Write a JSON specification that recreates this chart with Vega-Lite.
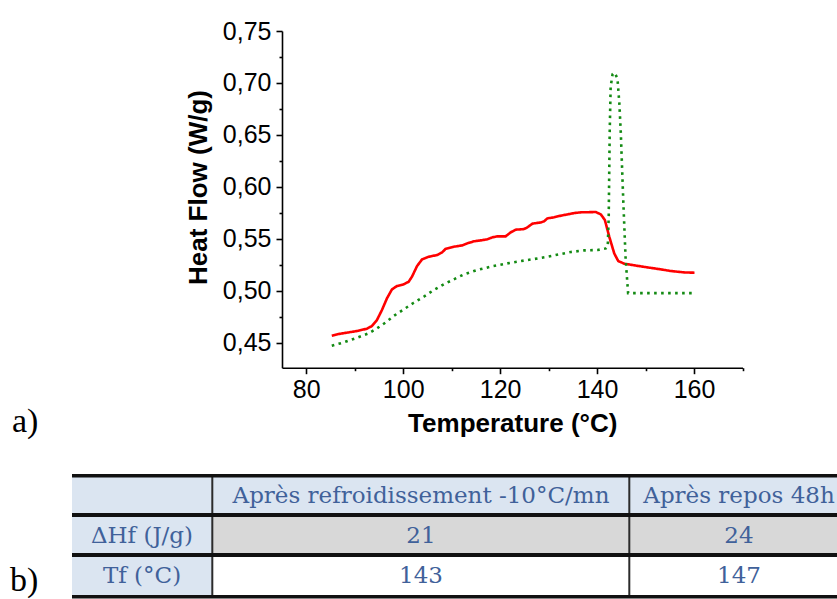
{
  "$schema": "https://vega.github.io/schema/vega-lite/v6.json",
  "width": 837,
  "height": 599,
  "padding": 0,
  "autosize": {"type": "none"},
  "background": "white",
  "config": {"view": {"stroke": null}},
  "datasets": {
    "curves": [
      {"series": "refroidissement", "T": 85.27, "HF": 0.4568},
      {"series": "refroidissement", "T": 86.65, "HF": 0.4584},
      {"series": "refroidissement", "T": 88.38, "HF": 0.4597},
      {"series": "refroidissement", "T": 90.45, "HF": 0.4613},
      {"series": "refroidissement", "T": 92.52, "HF": 0.4635},
      {"series": "refroidissement", "T": 93.55, "HF": 0.4661},
      {"series": "refroidissement", "T": 94.58, "HF": 0.4718},
      {"series": "refroidissement", "T": 95.62, "HF": 0.4815},
      {"series": "refroidissement", "T": 96.65, "HF": 0.4927},
      {"series": "refroidissement", "T": 97.69, "HF": 0.5014},
      {"series": "refroidissement", "T": 98.72, "HF": 0.5046},
      {"series": "refroidissement", "T": 100.1, "HF": 0.5062},
      {"series": "refroidissement", "T": 101.13, "HF": 0.5087},
      {"series": "refroidissement", "T": 101.82, "HF": 0.5136},
      {"series": "refroidissement", "T": 102.86, "HF": 0.5238},
      {"series": "refroidissement", "T": 103.89, "HF": 0.5302},
      {"series": "refroidissement", "T": 105.27, "HF": 0.5328},
      {"series": "refroidissement", "T": 107.0, "HF": 0.5344},
      {"series": "refroidissement", "T": 108.03, "HF": 0.537},
      {"series": "refroidissement", "T": 108.72, "HF": 0.5402},
      {"series": "refroidissement", "T": 110.44, "HF": 0.5424},
      {"series": "refroidissement", "T": 112.17, "HF": 0.5437},
      {"series": "refroidissement", "T": 113.2, "HF": 0.5456},
      {"series": "refroidissement", "T": 114.58, "HF": 0.5476},
      {"series": "refroidissement", "T": 115.96, "HF": 0.5485},
      {"series": "refroidissement", "T": 117.34, "HF": 0.5495},
      {"series": "refroidissement", "T": 118.37, "HF": 0.5514},
      {"series": "refroidissement", "T": 119.41, "HF": 0.5524},
      {"series": "refroidissement", "T": 121.13, "HF": 0.5524},
      {"series": "refroidissement", "T": 122.17, "HF": 0.5562},
      {"series": "refroidissement", "T": 123.2, "HF": 0.5588},
      {"series": "refroidissement", "T": 124.92, "HF": 0.5594},
      {"series": "refroidissement", "T": 125.61, "HF": 0.561},
      {"series": "refroidissement", "T": 126.65, "HF": 0.5646},
      {"series": "refroidissement", "T": 128.37, "HF": 0.5658},
      {"series": "refroidissement", "T": 129.06, "HF": 0.5668},
      {"series": "refroidissement", "T": 129.75, "HF": 0.5697},
      {"series": "refroidissement", "T": 131.13, "HF": 0.5707},
      {"series": "refroidissement", "T": 132.51, "HF": 0.5723},
      {"series": "refroidissement", "T": 133.89, "HF": 0.5735},
      {"series": "refroidissement", "T": 135.27, "HF": 0.5748},
      {"series": "refroidissement", "T": 136.65, "HF": 0.5755},
      {"series": "refroidissement", "T": 139.75, "HF": 0.5758},
      {"series": "refroidissement", "T": 140.78, "HF": 0.5735},
      {"series": "refroidissement", "T": 141.61, "HF": 0.5681},
      {"series": "refroidissement", "T": 142.51, "HF": 0.5521},
      {"series": "refroidissement", "T": 143.54, "HF": 0.536},
      {"series": "refroidissement", "T": 144.37, "HF": 0.5286},
      {"series": "refroidissement", "T": 145.61, "HF": 0.5261},
      {"series": "refroidissement", "T": 147.68, "HF": 0.5245},
      {"series": "refroidissement", "T": 150.44, "HF": 0.5225},
      {"series": "refroidissement", "T": 153.2, "HF": 0.5206},
      {"series": "refroidissement", "T": 155.26, "HF": 0.519},
      {"series": "refroidissement", "T": 158.02, "HF": 0.5177},
      {"series": "refroidissement", "T": 160.1, "HF": 0.5174},
      {"series": "repos 48h", "T": 85.27, "HF": 0.4471},
      {"series": "repos 48h", "T": 87.69, "HF": 0.4503},
      {"series": "repos 48h", "T": 90.45, "HF": 0.4548},
      {"series": "repos 48h", "T": 92.86, "HF": 0.459},
      {"series": "repos 48h", "T": 94.58, "HF": 0.4638},
      {"series": "repos 48h", "T": 96.31, "HF": 0.4693},
      {"series": "repos 48h", "T": 98.03, "HF": 0.4757},
      {"series": "repos 48h", "T": 100.1, "HF": 0.4821},
      {"series": "repos 48h", "T": 102.17, "HF": 0.4885},
      {"series": "repos 48h", "T": 104.24, "HF": 0.4943},
      {"series": "repos 48h", "T": 106.31, "HF": 0.5007},
      {"series": "repos 48h", "T": 108.37, "HF": 0.5062},
      {"series": "repos 48h", "T": 110.44, "HF": 0.511},
      {"series": "repos 48h", "T": 112.51, "HF": 0.5158},
      {"series": "repos 48h", "T": 115.27, "HF": 0.52},
      {"series": "repos 48h", "T": 118.03, "HF": 0.5232},
      {"series": "repos 48h", "T": 121.48, "HF": 0.5264},
      {"series": "repos 48h", "T": 124.23, "HF": 0.5286},
      {"series": "repos 48h", "T": 126.99, "HF": 0.5306},
      {"series": "repos 48h", "T": 129.75, "HF": 0.5328},
      {"series": "repos 48h", "T": 132.51, "HF": 0.5354},
      {"series": "repos 48h", "T": 134.58, "HF": 0.5373},
      {"series": "repos 48h", "T": 137.34, "HF": 0.5389},
      {"series": "repos 48h", "T": 140.1, "HF": 0.5392},
      {"series": "repos 48h", "T": 141.82, "HF": 0.5408},
      {"series": "repos 48h", "T": 142.2, "HF": 0.5424},
      {"series": "repos 48h", "T": 142.4, "HF": 0.5713},
      {"series": "repos 48h", "T": 142.6, "HF": 0.6515},
      {"series": "repos 48h", "T": 142.8, "HF": 0.6964},
      {"series": "repos 48h", "T": 143.2, "HF": 0.7085},
      {"series": "repos 48h", "T": 143.6, "HF": 0.7099},
      {"series": "repos 48h", "T": 144.2, "HF": 0.7045},
      {"series": "repos 48h", "T": 144.6, "HF": 0.68},
      {"series": "repos 48h", "T": 144.9, "HF": 0.6515},
      {"series": "repos 48h", "T": 145.4, "HF": 0.5873},
      {"series": "repos 48h", "T": 145.9, "HF": 0.5296},
      {"series": "repos 48h", "T": 146.4, "HF": 0.4978},
      {"series": "repos 48h", "T": 150.0, "HF": 0.4978},
      {"series": "repos 48h", "T": 155.0, "HF": 0.4978},
      {"series": "repos 48h", "T": 160.0, "HF": 0.4978}
    ],
    "cells": [
      {"row": 0, "rowEnd": 1, "col": 0, "colEnd": 1, "role": "header"},
      {"row": 0, "rowEnd": 1, "col": 1, "colEnd": 2, "role": "header"},
      {"row": 0, "rowEnd": 1, "col": 2, "colEnd": 3, "role": "header"},
      {"row": 1, "rowEnd": 2, "col": 0, "colEnd": 1, "role": "stub"},
      {"row": 1, "rowEnd": 2, "col": 1, "colEnd": 2, "role": "shaded"},
      {"row": 1, "rowEnd": 2, "col": 2, "colEnd": 3, "role": "shaded"},
      {"row": 2, "rowEnd": 3, "col": 0, "colEnd": 1, "role": "stub"},
      {"row": 2, "rowEnd": 3, "col": 1, "colEnd": 2, "role": "plain"},
      {"row": 2, "rowEnd": 3, "col": 2, "colEnd": 3, "role": "plain"}
    ],
    "hlines": [
      {"edge": 0, "kind": "outer"},
      {"edge": 1, "kind": "header"},
      {"edge": 2, "kind": "row"},
      {"edge": 3, "kind": "outer"}
    ],
    "vlines": [{"edge": 1}, {"edge": 2}],
    "texts": [
      {"row": 0, "col": 1, "label": "Après refroidissement  -10°C/mn"},
      {"row": 0, "col": 2, "label": "Après repos 48h"},
      {"row": 1, "col": 0, "label": "ΔHf (J/g)"},
      {"row": 1, "col": 1, "label": "21"},
      {"row": 1, "col": 2, "label": "24"},
      {"row": 2, "col": 0, "label": "Tf (°C)"},
      {"row": 2, "col": 1, "label": "143"},
      {"row": 2, "col": 2, "label": "147"}
    ],
    "panels": [{"panel": "a)"}, {"panel": "b)"}]
  },
  "layer": [
    {
      "data": {"name": "curves"},
      "mark": {"type": "line", "strokeWidth": 2.6, "strokeCap": "butt"},
      "encoding": {
        "x": {
          "field": "T", "type": "quantitative",
          "scale": {"domain": [75, 170], "range": [282, 742.5], "nice": false, "zero": false},
          "axis": {
            "values": [80, 90, 100, 110, 120, 130, 140, 150, 160, 170],
            "format": "d",
            "labelExpr": "datum.value % 20 == 0 ? datum.label : ''",
            "tickSize": {"condition": {"test": "datum.value % 20 == 0", "value": 6}, "value": 3},
            "offset": -231.3,
            "grid": false,
            "domainColor": "black", "domainWidth": 1.6,
            "tickColor": "black", "tickWidth": 1.6,
            "labelFont": "Liberation Sans", "labelFontSize": 25, "labelColor": "black",
            "labelPadding": 4, "labelOverlap": false, "labelFlush": false, "labelBound": false,
            "title": "Temperature (°C)",
            "titleFont": "Liberation Sans", "titleFontSize": 26, "titleFontWeight": "bold", "titleColor": "black",
            "titleY": 64, "titleBaseline": "alphabetic"
          }
        },
        "y": {
          "field": "HF", "type": "quantitative",
          "scale": {"domain": [0.426, 0.75], "range": [367.7, 31], "nice": false, "zero": false},
          "axis": {
            "values": [0.45, 0.475, 0.5, 0.525, 0.55, 0.575, 0.6, 0.625, 0.65, 0.675, 0.7, 0.725, 0.75],
            "labelExpr": "round(datum.value * 40) % 2 == 0 ? replace(format(datum.value, '.2f'), '.', ',') : ''",
            "tickSize": {"condition": {"test": "round(datum.value * 40) % 2 == 0", "value": 6}, "value": 3},
            "offset": -282,
            "grid": false,
            "domainColor": "black", "domainWidth": 1.6,
            "tickColor": "black", "tickWidth": 1.6,
            "labelFont": "Liberation Sans", "labelFontSize": 25, "labelColor": "black",
            "labelPadding": 5, "labelOverlap": false, "labelFlush": false, "labelBound": false,
            "title": "Heat Flow (W/g)",
            "titleFont": "Liberation Sans", "titleFontSize": 26, "titleFontWeight": "bold", "titleColor": "black",
            "titleX": -84, "titleY": 187, "titleAngle": -90, "titleBaseline": "middle", "titleAlign": "center"
          }
        },
        "color": {
          "field": "series", "type": "nominal",
          "scale": {"domain": ["repos 48h", "refroidissement"], "range": ["#138a13", "#ff0000"]},
          "legend": null
        },
        "strokeDash": {
          "field": "series", "type": "nominal",
          "scale": {"domain": ["repos 48h", "refroidissement"], "range": [[2.6, 4.4], [1, 0]]},
          "legend": null
        }
      }
    },
    {
      "layer": [
        {
          "data": {"name": "cells"},
          "mark": {"type": "rect", "strokeWidth": 0},
          "encoding": {
            "x": {"field": "col", "type": "quantitative", "scale": {"domain": [0, 1, 2, 3], "range": [72, 212.3, 629.3, 849], "nice": false, "zero": false}, "axis": null},
            "x2": {"field": "colEnd"},
            "y": {"field": "row", "type": "quantitative", "scale": {"domain": [0, 1, 2, 3], "range": [475.7, 515, 555, 596.7], "nice": false, "zero": false}, "axis": null},
            "y2": {"field": "rowEnd"},
            "color": {
              "field": "role", "type": "nominal",
              "scale": {"domain": ["header", "stub", "shaded", "plain"], "range": ["#dbe5f1", "#dbe5f1", "#d8d8d8", "#ffffff"]},
              "legend": null
            }
          }
        },
        {
          "data": {"name": "vlines"},
          "mark": {"type": "rule", "color": "#2b2b2b", "strokeWidth": 2},
          "encoding": {
            "x": {"field": "edge", "type": "quantitative"},
            "y": {"datum": 0, "type": "quantitative"},
            "y2": {"datum": 3}
          }
        },
        {
          "data": {"name": "hlines"},
          "mark": {"type": "rule", "color": "#111111"},
          "encoding": {
            "y": {"field": "edge", "type": "quantitative"},
            "x": {"datum": 0, "type": "quantitative"},
            "x2": {"datum": 3},
            "strokeWidth": {
              "field": "kind", "type": "nominal",
              "scale": {"domain": ["outer", "header", "row"], "range": [3.6, 4, 1.6]},
              "legend": null
            }
          }
        }
      ]
    },
    {
      "data": {"name": "texts"},
      "mark": {"type": "text", "font": "DejaVu Serif", "fontSize": 23, "color": "#40619a", "align": "center", "baseline": "middle"},
      "encoding": {
        "x": {"field": "col", "type": "quantitative", "scale": {"domain": [0, 1, 2], "range": [142, 421, 739], "nice": false, "zero": false}, "axis": null},
        "y": {"field": "row", "type": "quantitative", "scale": {"domain": [0, 1, 2], "range": [496, 536, 576], "nice": false, "zero": false}, "axis": null},
        "text": {"field": "label", "type": "nominal"}
      }
    },
    {
      "data": {"name": "panels"},
      "mark": {"type": "text", "font": "Liberation Serif", "fontSize": 34, "color": "black", "align": "left", "baseline": "alphabetic"},
      "encoding": {
        "x": {"field": "panel", "type": "nominal", "scale": {"type": "point", "domain": ["a)", "b)"], "range": [12, 10], "padding": 0}, "axis": null},
        "y": {"field": "panel", "type": "nominal", "scale": {"type": "point", "domain": ["a)", "b)"], "range": [432, 591], "padding": 0}, "axis": null},
        "text": {"field": "panel", "type": "nominal"}
      }
    }
  ],
  "resolve": {
    "scale": {"x": "independent", "y": "independent", "color": "independent", "strokeDash": "independent", "strokeWidth": "independent"},
    "axis": {"x": "independent", "y": "independent"}
  }
}
